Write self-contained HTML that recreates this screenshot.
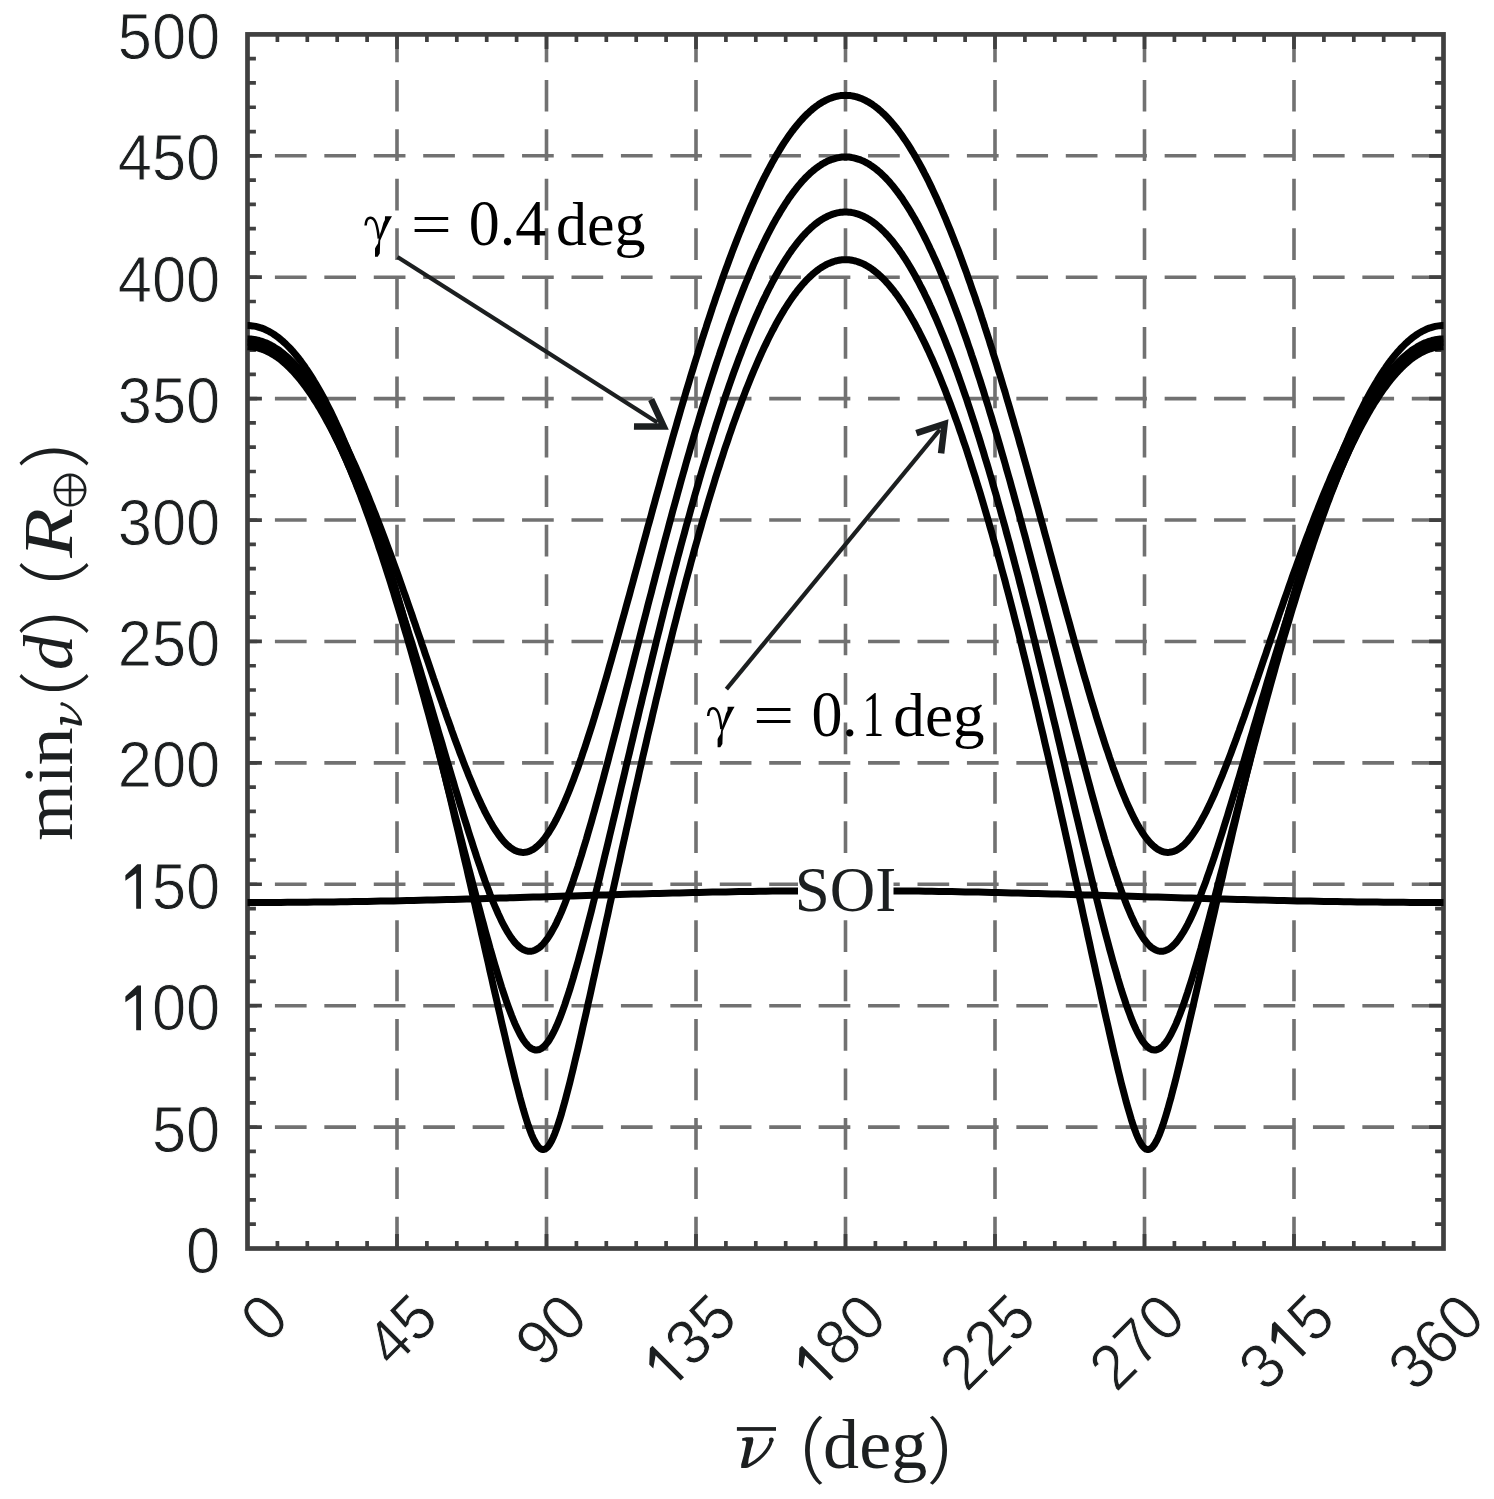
<!DOCTYPE html><html><head><meta charset="utf-8"><title>plot</title>
<style>html,body{margin:0;padding:0;background:#fff;overflow:hidden}svg{display:block}</style></head><body>
<svg width="1494" height="1499" viewBox="0 0 1494 1499">
<rect width="1494" height="1499" fill="#fff"/>
<g stroke="#717171" stroke-width="3.6" stroke-dasharray="31.7 17.73" fill="none">
<path d="M1443.5 1127.09H247.5"/>
<path d="M1443.5 1005.68H247.5"/>
<path d="M1443.5 884.27H247.5"/>
<path d="M1443.5 762.86H247.5"/>
<path d="M1443.5 641.45H247.5"/>
<path d="M1443.5 520.04H247.5"/>
<path d="M1443.5 398.63H247.5"/>
<path d="M1443.5 277.22H247.5"/>
<path d="M1443.5 155.81H247.5"/>
<path d="M397 1248.5V34.4"/>
<path d="M546.5 1248.5V34.4"/>
<path d="M696 1248.5V34.4"/>
<path d="M845.5 1248.5V34.4"/>
<path d="M995 1248.5V34.4"/>
<path d="M1144.5 1248.5V34.4"/>
<path d="M1294 1248.5V34.4"/>
</g>
<g stroke="#404040" fill="none">
<rect x="247.5" y="34.4" width="1196" height="1214.1" stroke-width="4.7"/>
<path stroke-width="3.7" d="M247.5 1224.22h8.4M1443.5 1224.22h-8.4M247.5 1199.94h8.4M1443.5 1199.94h-8.4M247.5 1175.65h8.4M1443.5 1175.65h-8.4M247.5 1151.37h8.4M1443.5 1151.37h-8.4M247.5 1127.09h14.4M1443.5 1127.09h-14.4M247.5 1102.81h8.4M1443.5 1102.81h-8.4M247.5 1078.53h8.4M1443.5 1078.53h-8.4M247.5 1054.24h8.4M1443.5 1054.24h-8.4M247.5 1029.96h8.4M1443.5 1029.96h-8.4M247.5 1005.68h14.4M1443.5 1005.68h-14.4M247.5 981.4h8.4M1443.5 981.4h-8.4M247.5 957.12h8.4M1443.5 957.12h-8.4M247.5 932.83h8.4M1443.5 932.83h-8.4M247.5 908.55h8.4M1443.5 908.55h-8.4M247.5 884.27h14.4M1443.5 884.27h-14.4M247.5 859.99h8.4M1443.5 859.99h-8.4M247.5 835.71h8.4M1443.5 835.71h-8.4M247.5 811.42h8.4M1443.5 811.42h-8.4M247.5 787.14h8.4M1443.5 787.14h-8.4M247.5 762.86h14.4M1443.5 762.86h-14.4M247.5 738.58h8.4M1443.5 738.58h-8.4M247.5 714.3h8.4M1443.5 714.3h-8.4M247.5 690.01h8.4M1443.5 690.01h-8.4M247.5 665.73h8.4M1443.5 665.73h-8.4M247.5 641.45h14.4M1443.5 641.45h-14.4M247.5 617.17h8.4M1443.5 617.17h-8.4M247.5 592.89h8.4M1443.5 592.89h-8.4M247.5 568.6h8.4M1443.5 568.6h-8.4M247.5 544.32h8.4M1443.5 544.32h-8.4M247.5 520.04h14.4M1443.5 520.04h-14.4M247.5 495.76h8.4M1443.5 495.76h-8.4M247.5 471.48h8.4M1443.5 471.48h-8.4M247.5 447.19h8.4M1443.5 447.19h-8.4M247.5 422.91h8.4M1443.5 422.91h-8.4M247.5 398.63h14.4M1443.5 398.63h-14.4M247.5 374.35h8.4M1443.5 374.35h-8.4M247.5 350.07h8.4M1443.5 350.07h-8.4M247.5 325.78h8.4M1443.5 325.78h-8.4M247.5 301.5h8.4M1443.5 301.5h-8.4M247.5 277.22h14.4M1443.5 277.22h-14.4M247.5 252.94h8.4M1443.5 252.94h-8.4M247.5 228.66h8.4M1443.5 228.66h-8.4M247.5 204.37h8.4M1443.5 204.37h-8.4M247.5 180.09h8.4M1443.5 180.09h-8.4M247.5 155.81h14.4M1443.5 155.81h-14.4M247.5 131.53h8.4M1443.5 131.53h-8.4M247.5 107.25h8.4M1443.5 107.25h-8.4M247.5 82.96h8.4M1443.5 82.96h-8.4M247.5 58.68h8.4M1443.5 58.68h-8.4M277.4 1248.5v-7.5M277.4 34.4v7.5M307.3 1248.5v-7.5M307.3 34.4v7.5M337.2 1248.5v-7.5M337.2 34.4v7.5M367.1 1248.5v-7.5M367.1 34.4v7.5M397 1248.5v-14.6M397 34.4v14.6M426.9 1248.5v-7.5M426.9 34.4v7.5M456.8 1248.5v-7.5M456.8 34.4v7.5M486.7 1248.5v-7.5M486.7 34.4v7.5M516.6 1248.5v-7.5M516.6 34.4v7.5M546.5 1248.5v-14.6M546.5 34.4v14.6M576.4 1248.5v-7.5M576.4 34.4v7.5M606.3 1248.5v-7.5M606.3 34.4v7.5M636.2 1248.5v-7.5M636.2 34.4v7.5M666.1 1248.5v-7.5M666.1 34.4v7.5M696 1248.5v-14.6M696 34.4v14.6M725.9 1248.5v-7.5M725.9 34.4v7.5M755.8 1248.5v-7.5M755.8 34.4v7.5M785.7 1248.5v-7.5M785.7 34.4v7.5M815.6 1248.5v-7.5M815.6 34.4v7.5M845.5 1248.5v-14.6M845.5 34.4v14.6M875.4 1248.5v-7.5M875.4 34.4v7.5M905.3 1248.5v-7.5M905.3 34.4v7.5M935.2 1248.5v-7.5M935.2 34.4v7.5M965.1 1248.5v-7.5M965.1 34.4v7.5M995 1248.5v-14.6M995 34.4v14.6M1024.9 1248.5v-7.5M1024.9 34.4v7.5M1054.8 1248.5v-7.5M1054.8 34.4v7.5M1084.7 1248.5v-7.5M1084.7 34.4v7.5M1114.6 1248.5v-7.5M1114.6 34.4v7.5M1144.5 1248.5v-14.6M1144.5 34.4v14.6M1174.4 1248.5v-7.5M1174.4 34.4v7.5M1204.3 1248.5v-7.5M1204.3 34.4v7.5M1234.2 1248.5v-7.5M1234.2 34.4v7.5M1264.1 1248.5v-7.5M1264.1 34.4v7.5M1294 1248.5v-14.6M1294 34.4v14.6M1323.9 1248.5v-7.5M1323.9 34.4v7.5M1353.8 1248.5v-7.5M1353.8 34.4v7.5M1383.7 1248.5v-7.5M1383.7 34.4v7.5M1413.6 1248.5v-7.5M1413.6 34.4v7.5"/>
</g>
<g stroke="#000" stroke-width="7.0" fill="none" stroke-linejoin="round">
<g transform="translate(0 0.5)">
<path d="M247.5 325.1 249.2 325.1 250.8 325.2 252.5 325.4 254.1 325.6 255.8 325.9 257.5 326.3 259.1 326.8 260.8 327.3 262.4 327.9 264.1 328.5 265.8 329.3 267.4 330.1 269.1 330.9 270.8 331.9 272.4 332.9 274.1 334.0 275.7 335.1 277.4 336.3 279.1 337.6 280.7 339.0 282.4 340.4 284.0 341.9 285.7 343.4 287.4 345.1 289.0 346.7 290.7 348.5 292.4 350.3 294.0 352.2 295.7 354.2 297.3 356.2 299.0 358.3 300.7 360.5 302.3 362.7 304.0 365.0 305.6 367.4 307.3 369.8 309.0 372.4 310.6 374.9 312.3 377.6 313.9 380.3 315.6 383.0 317.3 385.9 318.9 388.7 320.6 391.7 322.2 394.7 323.9 397.8 325.6 401.0 327.2 404.2 328.9 407.5 330.6 410.8 332.2 414.2 333.9 417.7 335.5 421.3 337.2 424.9 338.9 428.5 340.5 432.2 342.2 436.0 343.8 439.9 345.5 443.8 347.2 447.8 348.8 451.8 350.5 455.9 352.1 460.0 353.8 464.2 355.5 468.5 357.1 472.8 358.8 477.2 360.5 481.7 362.1 486.2 363.8 490.7 365.4 495.4 367.1 500.0 368.8 504.8 370.4 509.6 372.1 514.4 373.7 519.3 375.4 524.3 377.1 529.3 378.7 534.4 380.4 539.5 382.1 544.7 383.7 549.9 385.4 555.2 387.0 560.5 388.7 565.9 390.4 571.3 392.0 576.8 393.7 582.4 395.3 587.9 397.0 593.6 398.7 599.3 400.3 605.0 402.0 610.8 403.6 616.6 405.3 622.5 407.0 628.5 408.6 634.4 410.3 640.5 412.0 646.5 413.6 652.6 415.3 658.8 416.9 665.0 418.6 671.2 420.3 677.5 421.9 683.9 423.6 690.2 425.2 696.6 426.9 703.1 428.6 709.6 430.2 716.1 431.9 722.7 433.5 729.3 435.2 735.9 436.9 742.6 438.5 749.4 440.2 756.1 441.9 762.9 443.5 769.7 445.2 776.6 446.8 783.5 448.5 790.4 450.2 797.3 451.8 804.3 453.5 811.3 455.1 818.4 456.8 825.4 458.5 832.5 460.1 839.6 461.8 846.8 463.4 854.0 465.1 861.1 466.8 868.3 468.4 875.6 470.1 882.8 471.8 890.1 473.4 897.4 475.1 904.7 476.7 912.0 478.4 919.3 480.1 926.6 481.7 934.0 483.4 941.3 485.0 948.6 486.7 956.0 488.4 963.3 490.0 970.7 491.7 978.0 493.3 985.3 495.0 992.6 496.7 999.9 498.3 1007.2 500.0 1014.5 501.6 1021.7 503.3 1028.9 505.0 1036.0 506.6 1043.1 508.3 1050.1 510.0 1057.1 511.6 1063.9 513.3 1070.7 514.9 1077.4 516.6 1084.0 518.3 1090.4 519.9 1096.7 521.6 1102.7 523.2 1108.6 524.9 1114.3 526.6 1119.7 528.2 1124.7 529.9 1129.5 531.5 1133.8 533.2 1137.7 534.9 1141.1 536.5 1143.9 538.2 1146.2 539.9 1147.9 541.5 1148.8 543.2 1149.1 544.8 1148.7 546.5 1147.6 548.2 1145.9 549.8 1143.5 551.5 1140.6 553.1 1137.1 554.8 1133.1 556.5 1128.6 558.1 1123.8 559.8 1118.6 561.5 1113.1 563.1 1107.3 564.8 1101.3 566.4 1095.1 568.1 1088.7 569.8 1082.2 571.4 1075.5 573.1 1068.7 574.7 1061.7 576.4 1054.7 578.1 1047.6 579.7 1040.4 581.4 1033.1 583.0 1025.8 584.7 1018.5 586.4 1011.1 588.0 1003.6 589.7 996.2 591.4 988.6 593.0 981.1 594.7 973.6 596.3 966.0 598.0 958.4 599.7 950.9 601.3 943.3 603.0 935.7 604.6 928.1 606.3 920.5 608.0 912.9 609.6 905.3 611.3 897.7 612.9 890.1 614.6 882.5 616.3 875.0 617.9 867.4 619.6 859.9 621.2 852.3 622.9 844.8 624.6 837.3 626.2 829.9 627.9 822.4 629.6 815.0 631.2 807.6 632.9 800.2 634.5 792.8 636.2 785.5 637.9 778.1 639.5 770.8 641.2 763.6 642.8 756.3 644.5 749.1 646.2 741.9 647.8 734.8 649.5 727.7 651.2 720.6 652.8 713.5 654.5 706.5 656.1 699.5 657.8 692.6 659.5 685.7 661.1 678.8 662.8 671.9 664.4 665.1 666.1 658.4 667.8 651.6 669.4 644.9 671.1 638.3 672.7 631.7 674.4 625.1 676.1 618.6 677.7 612.1 679.4 605.7 681.0 599.3 682.7 592.9 684.4 586.6 686.0 580.3 687.7 574.1 689.4 568.0 691.0 561.8 692.7 555.8 694.3 549.7 696.0 543.8 697.7 537.9 699.3 532.0 701.0 526.2 702.6 520.4 704.3 514.7 706.0 509.0 707.6 503.4 709.3 497.8 711.0 492.3 712.6 486.9 714.3 481.5 715.9 476.1 717.6 470.8 719.3 465.6 720.9 460.4 722.6 455.3 724.2 450.2 725.9 445.2 727.6 440.3 729.2 435.4 730.9 430.6 732.5 425.8 734.2 421.1 735.9 416.5 737.5 411.9 739.2 407.4 740.9 402.9 742.5 398.5 744.2 394.2 745.8 389.9 747.5 385.7 749.2 381.5 750.8 377.4 752.5 373.4 754.1 369.5 755.8 365.6 757.5 361.7 759.1 358.0 760.8 354.3 762.4 350.7 764.1 347.1 765.8 343.6 767.4 340.2 769.1 336.8 770.8 333.5 772.4 330.3 774.1 327.2 775.7 324.1 777.4 321.1 779.1 318.1 780.7 315.2 782.4 312.4 784.0 309.7 785.7 307.0 787.4 304.4 789.0 301.9 790.7 299.4 792.3 297.1 794.0 294.7 795.7 292.5 797.3 290.3 799.0 288.2 800.6 286.2 802.3 284.2 804.0 282.4 805.6 280.5 807.3 278.8 809.0 277.1 810.6 275.6 812.3 274.0 813.9 272.6 815.6 271.2 817.3 269.9 818.9 268.7 820.6 267.5 822.2 266.5 823.9 265.5 825.6 264.5 827.2 263.7 828.9 262.9 830.6 262.2 832.2 261.6 833.9 261.0 835.5 260.5 837.2 260.1 838.9 259.8 840.5 259.5 842.2 259.3 843.8 259.2 845.5 259.2 847.2 259.2 848.8 259.3 850.5 259.5 852.1 259.8 853.8 260.1 855.5 260.5 857.1 261.0 858.8 261.6 860.5 262.2 862.1 262.9 863.8 263.7 865.4 264.5 867.1 265.5 868.8 266.5 870.4 267.5 872.1 268.7 873.7 269.9 875.4 271.2 877.1 272.6 878.7 274.0 880.4 275.6 882.0 277.1 883.7 278.8 885.4 280.5 887.0 282.4 888.7 284.2 890.4 286.2 892.0 288.2 893.7 290.3 895.3 292.5 897.0 294.7 898.7 297.1 900.3 299.4 902.0 301.9 903.6 304.4 905.3 307.0 907.0 309.7 908.6 312.4 910.3 315.2 911.9 318.1 913.6 321.1 915.3 324.1 916.9 327.2 918.6 330.3 920.2 333.5 921.9 336.8 923.6 340.2 925.2 343.6 926.9 347.1 928.6 350.7 930.2 354.3 931.9 358.0 933.5 361.7 935.2 365.6 936.9 369.5 938.5 373.4 940.2 377.4 941.8 381.5 943.5 385.7 945.2 389.9 946.8 394.2 948.5 398.5 950.2 402.9 951.8 407.4 953.5 411.9 955.1 416.5 956.8 421.1 958.5 425.8 960.1 430.6 961.8 435.4 963.4 440.3 965.1 445.2 966.8 450.2 968.4 455.3 970.1 460.4 971.7 465.6 973.4 470.8 975.1 476.1 976.7 481.5 978.4 486.9 980.1 492.3 981.7 497.8 983.4 503.4 985.0 509.0 986.7 514.7 988.4 520.4 990.0 526.2 991.7 532.0 993.3 537.9 995.0 543.8 996.7 549.7 998.3 555.8 1000.0 561.8 1001.6 568.0 1003.3 574.1 1005.0 580.3 1006.6 586.6 1008.3 592.9 1010.0 599.3 1011.6 605.7 1013.3 612.1 1014.9 618.6 1016.6 625.1 1018.3 631.7 1019.9 638.3 1021.6 644.9 1023.2 651.6 1024.9 658.4 1026.6 665.1 1028.2 671.9 1029.9 678.8 1031.5 685.7 1033.2 692.6 1034.9 699.5 1036.5 706.5 1038.2 713.5 1039.8 720.6 1041.5 727.7 1043.2 734.8 1044.8 741.9 1046.5 749.1 1048.2 756.3 1049.8 763.6 1051.5 770.8 1053.1 778.1 1054.8 785.5 1056.5 792.8 1058.1 800.2 1059.8 807.6 1061.4 815.0 1063.1 822.4 1064.8 829.9 1066.4 837.3 1068.1 844.8 1069.8 852.3 1071.4 859.9 1073.1 867.4 1074.7 875.0 1076.4 882.5 1078.1 890.1 1079.7 897.7 1081.4 905.3 1083.0 912.9 1084.7 920.5 1086.4 928.1 1088.0 935.7 1089.7 943.3 1091.3 950.9 1093.0 958.4 1094.7 966.0 1096.3 973.6 1098.0 981.1 1099.7 988.6 1101.3 996.2 1103.0 1003.6 1104.6 1011.1 1106.3 1018.5 1108.0 1025.8 1109.6 1033.1 1111.3 1040.4 1112.9 1047.6 1114.6 1054.7 1116.3 1061.7 1117.9 1068.7 1119.6 1075.5 1121.2 1082.2 1122.9 1088.7 1124.6 1095.1 1126.2 1101.3 1127.9 1107.3 1129.6 1113.1 1131.2 1118.6 1132.9 1123.8 1134.5 1128.6 1136.2 1133.1 1137.9 1137.1 1139.5 1140.6 1141.2 1143.5 1142.8 1145.9 1144.5 1147.6 1146.2 1148.7 1147.8 1149.1 1149.5 1148.8 1151.1 1147.9 1152.8 1146.2 1154.5 1143.9 1156.1 1141.1 1157.8 1137.7 1159.5 1133.8 1161.1 1129.5 1162.8 1124.7 1164.4 1119.7 1166.1 1114.3 1167.8 1108.6 1169.4 1102.7 1171.1 1096.7 1172.7 1090.4 1174.4 1084.0 1176.1 1077.4 1177.7 1070.7 1179.4 1063.9 1181.0 1057.1 1182.7 1050.1 1184.4 1043.1 1186.0 1036.0 1187.7 1028.9 1189.3 1021.7 1191.0 1014.5 1192.7 1007.2 1194.3 999.9 1196.0 992.6 1197.7 985.3 1199.3 978.0 1201.0 970.7 1202.6 963.3 1204.3 956.0 1206.0 948.6 1207.6 941.3 1209.3 934.0 1210.9 926.6 1212.6 919.3 1214.3 912.0 1215.9 904.7 1217.6 897.4 1219.2 890.1 1220.9 882.8 1222.6 875.6 1224.2 868.3 1225.9 861.1 1227.6 854.0 1229.2 846.8 1230.9 839.6 1232.5 832.5 1234.2 825.4 1235.9 818.4 1237.5 811.3 1239.2 804.3 1240.8 797.3 1242.5 790.4 1244.2 783.5 1245.8 776.6 1247.5 769.7 1249.2 762.9 1250.8 756.1 1252.5 749.4 1254.1 742.6 1255.8 735.9 1257.5 729.3 1259.1 722.7 1260.8 716.1 1262.4 709.6 1264.1 703.1 1265.8 696.6 1267.4 690.2 1269.1 683.9 1270.7 677.5 1272.4 671.2 1274.1 665.0 1275.7 658.8 1277.4 652.6 1279.0 646.5 1280.7 640.5 1282.4 634.4 1284.0 628.5 1285.7 622.5 1287.4 616.6 1289.0 610.8 1290.7 605.0 1292.3 599.3 1294.0 593.6 1295.7 587.9 1297.3 582.4 1299.0 576.8 1300.6 571.3 1302.3 565.9 1304.0 560.5 1305.6 555.2 1307.3 549.9 1309.0 544.7 1310.6 539.5 1312.3 534.4 1313.9 529.3 1315.6 524.3 1317.3 519.3 1318.9 514.4 1320.6 509.6 1322.2 504.8 1323.9 500.0 1325.6 495.4 1327.2 490.7 1328.9 486.2 1330.5 481.7 1332.2 477.2 1333.9 472.8 1335.5 468.5 1337.2 464.2 1338.9 460.0 1340.5 455.9 1342.2 451.8 1343.8 447.8 1345.5 443.8 1347.2 439.9 1348.8 436.0 1350.5 432.2 1352.1 428.5 1353.8 424.9 1355.5 421.3 1357.1 417.7 1358.8 414.2 1360.4 410.8 1362.1 407.5 1363.8 404.2 1365.4 401.0 1367.1 397.8 1368.8 394.7 1370.4 391.7 1372.1 388.7 1373.7 385.9 1375.4 383.0 1377.1 380.3 1378.7 377.6 1380.4 374.9 1382.0 372.4 1383.7 369.8 1385.4 367.4 1387.0 365.0 1388.7 362.7 1390.3 360.5 1392.0 358.3 1393.7 356.2 1395.3 354.2 1397.0 352.2 1398.7 350.3 1400.3 348.5 1402.0 346.7 1403.6 345.1 1405.3 343.4 1407.0 341.9 1408.6 340.4 1410.3 339.0 1411.9 337.6 1413.6 336.3 1415.3 335.1 1416.9 334.0 1418.6 332.9 1420.2 331.9 1421.9 330.9 1423.6 330.1 1425.2 329.3 1426.9 328.5 1428.5 327.9 1430.2 327.3 1431.9 326.8 1433.5 326.3 1435.2 325.9 1436.9 325.6 1438.5 325.4 1440.2 325.2 1441.8 325.1 1443.5 325.1"/>
<path d="M247.5 341.7 249.2 341.8 250.8 341.9 252.5 342.0 254.1 342.3 255.8 342.6 257.5 343.0 259.1 343.4 260.8 343.9 262.4 344.5 264.1 345.1 265.8 345.9 267.4 346.6 269.1 347.5 270.8 348.4 272.4 349.4 274.1 350.5 275.7 351.6 277.4 352.8 279.1 354.0 280.7 355.4 282.4 356.8 284.0 358.2 285.7 359.7 287.4 361.3 289.0 363.0 290.7 364.7 292.4 366.5 294.0 368.4 295.7 370.3 297.3 372.3 299.0 374.4 300.7 376.5 302.3 378.7 304.0 380.9 305.6 383.3 307.3 385.6 309.0 388.1 310.6 390.6 312.3 393.2 313.9 395.8 315.6 398.5 317.3 401.3 318.9 404.1 320.6 407.0 322.2 410.0 323.9 413.0 325.6 416.1 327.2 419.3 328.9 422.5 330.6 425.7 332.2 429.1 333.9 432.5 335.5 435.9 337.2 439.4 338.9 443.0 340.5 446.6 342.2 450.3 343.8 454.1 345.5 457.9 347.2 461.8 348.8 465.7 350.5 469.7 352.1 473.7 353.8 477.8 355.5 482.0 357.1 486.2 358.8 490.5 360.5 494.8 362.1 499.2 363.8 503.6 365.4 508.1 367.1 512.7 368.8 517.3 370.4 521.9 372.1 526.6 373.7 531.4 375.4 536.2 377.1 541.0 378.7 546.0 380.4 550.9 382.1 555.9 383.7 561.0 385.4 566.1 387.0 571.2 388.7 576.4 390.4 581.7 392.0 587.0 393.7 592.3 395.3 597.7 397.0 603.1 398.7 608.6 400.3 614.1 402.0 619.7 403.6 625.3 405.3 630.9 407.0 636.6 408.6 642.3 410.3 648.1 412.0 653.9 413.6 659.7 415.3 665.6 416.9 671.5 418.6 677.5 420.3 683.5 421.9 689.5 423.6 695.5 425.2 701.6 426.9 707.7 428.6 713.8 430.2 720.0 431.9 726.2 433.5 732.4 435.2 738.7 436.9 744.9 438.5 751.2 440.2 757.5 441.9 763.9 443.5 770.2 445.2 776.6 446.8 783.0 448.5 789.4 450.2 795.8 451.8 802.2 453.5 808.6 455.1 815.0 456.8 821.5 458.5 827.9 460.1 834.4 461.8 840.8 463.4 847.3 465.1 853.7 466.8 860.1 468.4 866.6 470.1 873.0 471.8 879.3 473.4 885.7 475.1 892.0 476.7 898.4 478.4 904.6 480.1 910.9 481.7 917.1 483.4 923.3 485.0 929.4 486.7 935.4 488.4 941.4 490.0 947.4 491.7 953.2 493.3 959.0 495.0 964.7 496.7 970.3 498.3 975.8 500.0 981.2 501.6 986.5 503.3 991.6 505.0 996.6 506.6 1001.5 508.3 1006.2 510.0 1010.7 511.6 1015.0 513.3 1019.2 514.9 1023.1 516.6 1026.8 518.3 1030.3 519.9 1033.5 521.6 1036.5 523.2 1039.2 524.9 1041.6 526.6 1043.7 528.2 1045.5 529.9 1047.0 531.5 1048.1 533.2 1048.9 534.9 1049.4 536.5 1049.5 538.2 1049.3 539.9 1048.8 541.5 1047.9 543.2 1046.6 544.8 1045.1 546.5 1043.2 548.2 1041.0 549.8 1038.5 551.5 1035.7 553.1 1032.6 554.8 1029.2 556.5 1025.6 558.1 1021.8 559.8 1017.7 561.5 1013.3 563.1 1008.8 564.8 1004.1 566.4 999.2 568.1 994.1 569.8 988.9 571.4 983.5 573.1 978.0 574.7 972.3 576.4 966.5 578.1 960.6 579.7 954.6 581.4 948.5 583.0 942.4 584.7 936.1 586.4 929.7 588.0 923.3 589.7 916.8 591.4 910.3 593.0 903.7 594.7 897.0 596.3 890.3 598.0 883.6 599.7 876.8 601.3 870.0 603.0 863.1 604.6 856.3 606.3 849.4 608.0 842.4 609.6 835.5 611.3 828.5 612.9 821.6 614.6 814.6 616.3 807.6 617.9 800.6 619.6 793.6 621.2 786.6 622.9 779.6 624.6 772.5 626.2 765.5 627.9 758.5 629.6 751.6 631.2 744.6 632.9 737.6 634.5 730.6 636.2 723.7 637.9 716.7 639.5 709.8 641.2 702.9 642.8 696.0 644.5 689.1 646.2 682.3 647.8 675.4 649.5 668.6 651.2 661.9 652.8 655.1 654.5 648.4 656.1 641.6 657.8 635.0 659.5 628.3 661.1 621.7 662.8 615.1 664.4 608.5 666.1 602.0 667.8 595.5 669.4 589.0 671.1 582.6 672.7 576.2 674.4 569.8 676.1 563.5 677.7 557.2 679.4 551.0 681.0 544.8 682.7 538.6 684.4 532.5 686.0 526.4 687.7 520.4 689.4 514.4 691.0 508.4 692.7 502.5 694.3 496.6 696.0 490.8 697.7 485.0 699.3 479.3 701.0 473.6 702.6 468.0 704.3 462.4 706.0 456.9 707.6 451.4 709.3 446.0 711.0 440.6 712.6 435.2 714.3 430.0 715.9 424.7 717.6 419.6 719.3 414.4 720.9 409.4 722.6 404.4 724.2 399.4 725.9 394.5 727.6 389.7 729.2 384.9 730.9 380.1 732.5 375.5 734.2 370.8 735.9 366.3 737.5 361.8 739.2 357.3 740.9 353.0 742.5 348.6 744.2 344.4 745.8 340.2 747.5 336.0 749.2 332.0 750.8 328.0 752.5 324.0 754.1 320.1 755.8 316.3 757.5 312.5 759.1 308.8 760.8 305.2 762.4 301.6 764.1 298.1 765.8 294.7 767.4 291.3 769.1 288.0 770.8 284.8 772.4 281.6 774.1 278.5 775.7 275.5 777.4 272.5 779.1 269.6 780.7 266.8 782.4 264.0 784.0 261.3 785.7 258.7 787.4 256.1 789.0 253.6 790.7 251.2 792.3 248.8 794.0 246.6 795.7 244.4 797.3 242.2 799.0 240.1 800.6 238.2 802.3 236.2 804.0 234.4 805.6 232.6 807.3 230.9 809.0 229.2 810.6 227.7 812.3 226.2 813.9 224.7 815.6 223.4 817.3 222.1 818.9 220.9 820.6 219.8 822.2 218.7 823.9 217.7 825.6 216.8 827.2 216.0 828.9 215.2 830.6 214.5 832.2 213.9 833.9 213.3 835.5 212.8 837.2 212.4 838.9 212.1 840.5 211.8 842.2 211.7 843.8 211.5 845.5 211.5 847.2 211.5 848.8 211.7 850.5 211.8 852.1 212.1 853.8 212.4 855.5 212.8 857.1 213.3 858.8 213.9 860.5 214.5 862.1 215.2 863.8 216.0 865.4 216.8 867.1 217.7 868.8 218.7 870.4 219.8 872.1 220.9 873.7 222.1 875.4 223.4 877.1 224.7 878.7 226.2 880.4 227.7 882.0 229.2 883.7 230.9 885.4 232.6 887.0 234.4 888.7 236.2 890.4 238.2 892.0 240.1 893.7 242.2 895.3 244.4 897.0 246.6 898.7 248.8 900.3 251.2 902.0 253.6 903.6 256.1 905.3 258.7 907.0 261.3 908.6 264.0 910.3 266.8 911.9 269.6 913.6 272.5 915.3 275.5 916.9 278.5 918.6 281.6 920.2 284.8 921.9 288.0 923.6 291.3 925.2 294.7 926.9 298.1 928.6 301.6 930.2 305.2 931.9 308.8 933.5 312.5 935.2 316.3 936.9 320.1 938.5 324.0 940.2 328.0 941.8 332.0 943.5 336.0 945.2 340.2 946.8 344.4 948.5 348.6 950.2 353.0 951.8 357.3 953.5 361.8 955.1 366.3 956.8 370.8 958.5 375.5 960.1 380.1 961.8 384.9 963.4 389.7 965.1 394.5 966.8 399.4 968.4 404.4 970.1 409.4 971.7 414.4 973.4 419.6 975.1 424.7 976.7 430.0 978.4 435.2 980.1 440.6 981.7 446.0 983.4 451.4 985.0 456.9 986.7 462.4 988.4 468.0 990.0 473.6 991.7 479.3 993.3 485.0 995.0 490.8 996.7 496.6 998.3 502.5 1000.0 508.4 1001.6 514.4 1003.3 520.4 1005.0 526.4 1006.6 532.5 1008.3 538.6 1010.0 544.8 1011.6 551.0 1013.3 557.2 1014.9 563.5 1016.6 569.8 1018.3 576.2 1019.9 582.6 1021.6 589.0 1023.2 595.5 1024.9 602.0 1026.6 608.5 1028.2 615.1 1029.9 621.7 1031.5 628.3 1033.2 635.0 1034.9 641.6 1036.5 648.4 1038.2 655.1 1039.8 661.9 1041.5 668.6 1043.2 675.4 1044.8 682.3 1046.5 689.1 1048.2 696.0 1049.8 702.9 1051.5 709.8 1053.1 716.7 1054.8 723.7 1056.5 730.6 1058.1 737.6 1059.8 744.6 1061.4 751.6 1063.1 758.5 1064.8 765.5 1066.4 772.5 1068.1 779.6 1069.8 786.6 1071.4 793.6 1073.1 800.6 1074.7 807.6 1076.4 814.6 1078.1 821.6 1079.7 828.5 1081.4 835.5 1083.0 842.4 1084.7 849.4 1086.4 856.3 1088.0 863.1 1089.7 870.0 1091.3 876.8 1093.0 883.6 1094.7 890.3 1096.3 897.0 1098.0 903.7 1099.7 910.3 1101.3 916.8 1103.0 923.3 1104.6 929.7 1106.3 936.1 1108.0 942.4 1109.6 948.5 1111.3 954.6 1112.9 960.6 1114.6 966.5 1116.3 972.3 1117.9 978.0 1119.6 983.5 1121.2 988.9 1122.9 994.1 1124.6 999.2 1126.2 1004.1 1127.9 1008.8 1129.6 1013.3 1131.2 1017.7 1132.9 1021.8 1134.5 1025.6 1136.2 1029.2 1137.9 1032.6 1139.5 1035.7 1141.2 1038.5 1142.8 1041.0 1144.5 1043.2 1146.2 1045.1 1147.8 1046.6 1149.5 1047.9 1151.1 1048.8 1152.8 1049.3 1154.5 1049.5 1156.1 1049.4 1157.8 1048.9 1159.5 1048.1 1161.1 1047.0 1162.8 1045.5 1164.4 1043.7 1166.1 1041.6 1167.8 1039.2 1169.4 1036.5 1171.1 1033.5 1172.7 1030.3 1174.4 1026.8 1176.1 1023.1 1177.7 1019.2 1179.4 1015.0 1181.0 1010.7 1182.7 1006.2 1184.4 1001.5 1186.0 996.6 1187.7 991.6 1189.3 986.5 1191.0 981.2 1192.7 975.8 1194.3 970.3 1196.0 964.7 1197.7 959.0 1199.3 953.2 1201.0 947.4 1202.6 941.4 1204.3 935.4 1206.0 929.4 1207.6 923.3 1209.3 917.1 1210.9 910.9 1212.6 904.6 1214.3 898.4 1215.9 892.0 1217.6 885.7 1219.2 879.3 1220.9 873.0 1222.6 866.6 1224.2 860.1 1225.9 853.7 1227.6 847.3 1229.2 840.8 1230.9 834.4 1232.5 827.9 1234.2 821.5 1235.9 815.0 1237.5 808.6 1239.2 802.2 1240.8 795.8 1242.5 789.4 1244.2 783.0 1245.8 776.6 1247.5 770.2 1249.2 763.9 1250.8 757.5 1252.5 751.2 1254.1 744.9 1255.8 738.7 1257.5 732.4 1259.1 726.2 1260.8 720.0 1262.4 713.8 1264.1 707.7 1265.8 701.6 1267.4 695.5 1269.1 689.5 1270.7 683.5 1272.4 677.5 1274.1 671.5 1275.7 665.6 1277.4 659.7 1279.0 653.9 1280.7 648.1 1282.4 642.3 1284.0 636.6 1285.7 630.9 1287.4 625.3 1289.0 619.7 1290.7 614.1 1292.3 608.6 1294.0 603.1 1295.7 597.7 1297.3 592.3 1299.0 587.0 1300.6 581.7 1302.3 576.4 1304.0 571.2 1305.6 566.1 1307.3 561.0 1309.0 555.9 1310.6 550.9 1312.3 546.0 1313.9 541.0 1315.6 536.2 1317.3 531.4 1318.9 526.6 1320.6 521.9 1322.2 517.3 1323.9 512.7 1325.6 508.1 1327.2 503.6 1328.9 499.2 1330.5 494.8 1332.2 490.5 1333.9 486.2 1335.5 482.0 1337.2 477.8 1338.9 473.7 1340.5 469.7 1342.2 465.7 1343.8 461.8 1345.5 457.9 1347.2 454.1 1348.8 450.3 1350.5 446.6 1352.1 443.0 1353.8 439.4 1355.5 435.9 1357.1 432.5 1358.8 429.1 1360.4 425.7 1362.1 422.5 1363.8 419.3 1365.4 416.1 1367.1 413.0 1368.8 410.0 1370.4 407.0 1372.1 404.1 1373.7 401.3 1375.4 398.5 1377.1 395.8 1378.7 393.2 1380.4 390.6 1382.0 388.1 1383.7 385.6 1385.4 383.3 1387.0 380.9 1388.7 378.7 1390.3 376.5 1392.0 374.4 1393.7 372.3 1395.3 370.3 1397.0 368.4 1398.7 366.5 1400.3 364.7 1402.0 363.0 1403.6 361.3 1405.3 359.7 1407.0 358.2 1408.6 356.8 1410.3 355.4 1411.9 354.0 1413.6 352.8 1415.3 351.6 1416.9 350.5 1418.6 349.4 1420.2 348.4 1421.9 347.5 1423.6 346.6 1425.2 345.9 1426.9 345.1 1428.5 344.5 1430.2 343.9 1431.9 343.4 1433.5 343.0 1435.2 342.6 1436.9 342.3 1438.5 342.0 1440.2 341.9 1441.8 341.8 1443.5 341.7"/>
<path d="M247.5 346.2 249.2 346.3 250.8 346.4 252.5 346.5 254.1 346.8 255.8 347.1 257.5 347.4 259.1 347.8 260.8 348.3 262.4 348.9 264.1 349.5 265.8 350.2 267.4 351.0 269.1 351.8 270.8 352.7 272.4 353.7 274.1 354.7 275.7 355.8 277.4 356.9 279.1 358.1 280.7 359.4 282.4 360.8 284.0 362.2 285.7 363.6 287.4 365.2 289.0 366.8 290.7 368.5 292.4 370.2 294.0 372.0 295.7 373.9 297.3 375.8 299.0 377.8 300.7 379.8 302.3 381.9 304.0 384.1 305.6 386.3 307.3 388.6 309.0 391.0 310.6 393.4 312.3 395.9 313.9 398.5 315.6 401.1 317.3 403.7 318.9 406.5 320.6 409.2 322.2 412.1 323.9 415.0 325.6 418.0 327.2 421.0 328.9 424.1 330.6 427.2 332.2 430.4 333.9 433.7 335.5 437.0 337.2 440.4 338.9 443.8 340.5 447.3 342.2 450.8 343.8 454.4 345.5 458.1 347.2 461.8 348.8 465.5 350.5 469.3 352.1 473.2 353.8 477.1 355.5 481.1 357.1 485.1 358.8 489.2 360.5 493.3 362.1 497.5 363.8 501.7 365.4 506.0 367.1 510.3 368.8 514.7 370.4 519.1 372.1 523.6 373.7 528.1 375.4 532.6 377.1 537.2 378.7 541.9 380.4 546.6 382.1 551.3 383.7 556.1 385.4 560.9 387.0 565.7 388.7 570.6 390.4 575.6 392.0 580.5 393.7 585.5 395.3 590.6 397.0 595.7 398.7 600.8 400.3 605.9 402.0 611.1 403.6 616.4 405.3 621.6 407.0 626.9 408.6 632.2 410.3 637.5 412.0 642.9 413.6 648.3 415.3 653.7 416.9 659.1 418.6 664.6 420.3 670.1 421.9 675.6 423.6 681.1 425.2 686.6 426.9 692.2 428.6 697.8 430.2 703.3 431.9 708.9 433.5 714.5 435.2 720.2 436.9 725.8 438.5 731.4 440.2 737.0 441.9 742.6 443.5 748.3 445.2 753.9 446.8 759.5 448.5 765.1 450.2 770.7 451.8 776.3 453.5 781.8 455.1 787.4 456.8 792.9 458.5 798.4 460.1 803.9 461.8 809.3 463.4 814.7 465.1 820.1 466.8 825.4 468.4 830.7 470.1 836.0 471.8 841.2 473.4 846.3 475.1 851.4 476.7 856.4 478.4 861.3 480.1 866.2 481.7 871.0 483.4 875.7 485.0 880.4 486.7 884.9 488.4 889.3 490.0 893.7 491.7 897.9 493.3 902.0 495.0 906.0 496.7 909.8 498.3 913.5 500.0 917.1 501.6 920.6 503.3 923.8 505.0 927.0 506.6 929.9 508.3 932.7 510.0 935.3 511.6 937.7 513.3 940.0 514.9 942.0 516.6 943.8 518.3 945.5 519.9 946.9 521.6 948.1 523.2 949.1 524.9 949.8 526.6 950.4 528.2 950.7 529.9 950.8 531.5 950.7 533.2 950.3 534.9 949.7 536.5 948.9 538.2 947.8 539.9 946.6 541.5 945.1 543.2 943.4 544.8 941.4 546.5 939.3 548.2 937.0 549.8 934.4 551.5 931.7 553.1 928.7 554.8 925.6 556.5 922.3 558.1 918.8 559.8 915.2 561.5 911.3 563.1 907.4 564.8 903.2 566.4 899.0 568.1 894.6 569.8 890.0 571.4 885.4 573.1 880.6 574.7 875.7 576.4 870.6 578.1 865.5 579.7 860.3 581.4 855.0 583.0 849.5 584.7 844.0 586.4 838.5 588.0 832.8 589.7 827.1 591.4 821.3 593.0 815.4 594.7 809.5 596.3 803.5 598.0 797.5 599.7 791.4 601.3 785.2 603.0 779.1 604.6 772.9 606.3 766.6 608.0 760.3 609.6 754.0 611.3 747.7 612.9 741.3 614.6 734.9 616.3 728.5 617.9 722.0 619.6 715.6 621.2 709.1 622.9 702.6 624.6 696.1 626.2 689.6 627.9 683.1 629.6 676.6 631.2 670.1 632.9 663.6 634.5 657.1 636.2 650.5 637.9 644.0 639.5 637.5 641.2 631.0 642.8 624.6 644.5 618.1 646.2 611.6 647.8 605.2 649.5 598.7 651.2 592.3 652.8 585.9 654.5 579.5 656.1 573.1 657.8 566.8 659.5 560.4 661.1 554.1 662.8 547.8 664.4 541.6 666.1 535.3 667.8 529.1 669.4 523.0 671.1 516.8 672.7 510.7 674.4 504.6 676.1 498.5 677.7 492.5 679.4 486.5 681.0 480.5 682.7 474.6 684.4 468.7 686.0 462.9 687.7 457.0 689.4 451.3 691.0 445.5 692.7 439.8 694.3 434.2 696.0 428.5 697.7 423.0 699.3 417.4 701.0 411.9 702.6 406.5 704.3 401.1 706.0 395.7 707.6 390.4 709.3 385.1 711.0 379.9 712.6 374.8 714.3 369.6 715.9 364.6 717.6 359.5 719.3 354.6 720.9 349.6 722.6 344.8 724.2 340.0 725.9 335.2 727.6 330.5 729.2 325.8 730.9 321.2 732.5 316.7 734.2 312.2 735.9 307.7 737.5 303.4 739.2 299.0 740.9 294.8 742.5 290.6 744.2 286.4 745.8 282.3 747.5 278.3 749.2 274.3 750.8 270.4 752.5 266.5 754.1 262.7 755.8 259.0 757.5 255.3 759.1 251.7 760.8 248.2 762.4 244.7 764.1 241.3 765.8 237.9 767.4 234.6 769.1 231.4 770.8 228.2 772.4 225.1 774.1 222.1 775.7 219.1 777.4 216.2 779.1 213.4 780.7 210.6 782.4 207.9 784.0 205.3 785.7 202.7 787.4 200.2 789.0 197.7 790.7 195.4 792.3 193.1 794.0 190.8 795.7 188.7 797.3 186.6 799.0 184.6 800.6 182.6 802.3 180.7 804.0 178.9 805.6 177.1 807.3 175.5 809.0 173.9 810.6 172.3 812.3 170.9 813.9 169.5 815.6 168.1 817.3 166.9 818.9 165.7 820.6 164.6 822.2 163.5 823.9 162.6 825.6 161.7 827.2 160.8 828.9 160.1 830.6 159.4 832.2 158.8 833.9 158.3 835.5 157.8 837.2 157.4 838.9 157.1 840.5 156.8 842.2 156.6 843.8 156.5 845.5 156.5 847.2 156.5 848.8 156.6 850.5 156.8 852.1 157.1 853.8 157.4 855.5 157.8 857.1 158.3 858.8 158.8 860.5 159.4 862.1 160.1 863.8 160.8 865.4 161.7 867.1 162.6 868.8 163.5 870.4 164.6 872.1 165.7 873.7 166.9 875.4 168.1 877.1 169.5 878.7 170.9 880.4 172.3 882.0 173.9 883.7 175.5 885.4 177.1 887.0 178.9 888.7 180.7 890.4 182.6 892.0 184.6 893.7 186.6 895.3 188.7 897.0 190.8 898.7 193.1 900.3 195.4 902.0 197.7 903.6 200.2 905.3 202.7 907.0 205.3 908.6 207.9 910.3 210.6 911.9 213.4 913.6 216.2 915.3 219.1 916.9 222.1 918.6 225.1 920.2 228.2 921.9 231.4 923.6 234.6 925.2 237.9 926.9 241.3 928.6 244.7 930.2 248.2 931.9 251.7 933.5 255.3 935.2 259.0 936.9 262.7 938.5 266.5 940.2 270.4 941.8 274.3 943.5 278.3 945.2 282.3 946.8 286.4 948.5 290.6 950.2 294.8 951.8 299.0 953.5 303.4 955.1 307.7 956.8 312.2 958.5 316.7 960.1 321.2 961.8 325.8 963.4 330.5 965.1 335.2 966.8 340.0 968.4 344.8 970.1 349.6 971.7 354.6 973.4 359.5 975.1 364.6 976.7 369.6 978.4 374.8 980.1 379.9 981.7 385.1 983.4 390.4 985.0 395.7 986.7 401.1 988.4 406.5 990.0 411.9 991.7 417.4 993.3 423.0 995.0 428.5 996.7 434.2 998.3 439.8 1000.0 445.5 1001.6 451.3 1003.3 457.0 1005.0 462.9 1006.6 468.7 1008.3 474.6 1010.0 480.5 1011.6 486.5 1013.3 492.5 1014.9 498.5 1016.6 504.6 1018.3 510.7 1019.9 516.8 1021.6 523.0 1023.2 529.1 1024.9 535.3 1026.6 541.6 1028.2 547.8 1029.9 554.1 1031.5 560.4 1033.2 566.8 1034.9 573.1 1036.5 579.5 1038.2 585.9 1039.8 592.3 1041.5 598.7 1043.2 605.2 1044.8 611.6 1046.5 618.1 1048.2 624.6 1049.8 631.0 1051.5 637.5 1053.1 644.0 1054.8 650.5 1056.5 657.1 1058.1 663.6 1059.8 670.1 1061.4 676.6 1063.1 683.1 1064.8 689.6 1066.4 696.1 1068.1 702.6 1069.8 709.1 1071.4 715.6 1073.1 722.0 1074.7 728.5 1076.4 734.9 1078.1 741.3 1079.7 747.7 1081.4 754.0 1083.0 760.3 1084.7 766.6 1086.4 772.9 1088.0 779.1 1089.7 785.2 1091.3 791.4 1093.0 797.5 1094.7 803.5 1096.3 809.5 1098.0 815.4 1099.7 821.3 1101.3 827.1 1103.0 832.8 1104.6 838.5 1106.3 844.0 1108.0 849.5 1109.6 855.0 1111.3 860.3 1112.9 865.5 1114.6 870.6 1116.3 875.7 1117.9 880.6 1119.6 885.4 1121.2 890.0 1122.9 894.6 1124.6 899.0 1126.2 903.2 1127.9 907.4 1129.6 911.3 1131.2 915.2 1132.9 918.8 1134.5 922.3 1136.2 925.6 1137.9 928.7 1139.5 931.7 1141.2 934.4 1142.8 937.0 1144.5 939.3 1146.2 941.4 1147.8 943.4 1149.5 945.1 1151.1 946.6 1152.8 947.8 1154.5 948.9 1156.1 949.7 1157.8 950.3 1159.5 950.7 1161.1 950.8 1162.8 950.7 1164.4 950.4 1166.1 949.8 1167.8 949.1 1169.4 948.1 1171.1 946.9 1172.7 945.5 1174.4 943.8 1176.1 942.0 1177.7 940.0 1179.4 937.7 1181.0 935.3 1182.7 932.7 1184.4 929.9 1186.0 927.0 1187.7 923.8 1189.3 920.6 1191.0 917.1 1192.7 913.5 1194.3 909.8 1196.0 906.0 1197.7 902.0 1199.3 897.9 1201.0 893.7 1202.6 889.3 1204.3 884.9 1206.0 880.4 1207.6 875.7 1209.3 871.0 1210.9 866.2 1212.6 861.3 1214.3 856.4 1215.9 851.4 1217.6 846.3 1219.2 841.2 1220.9 836.0 1222.6 830.7 1224.2 825.4 1225.9 820.1 1227.6 814.7 1229.2 809.3 1230.9 803.9 1232.5 798.4 1234.2 792.9 1235.9 787.4 1237.5 781.8 1239.2 776.3 1240.8 770.7 1242.5 765.1 1244.2 759.5 1245.8 753.9 1247.5 748.3 1249.2 742.6 1250.8 737.0 1252.5 731.4 1254.1 725.8 1255.8 720.2 1257.5 714.5 1259.1 708.9 1260.8 703.3 1262.4 697.8 1264.1 692.2 1265.8 686.6 1267.4 681.1 1269.1 675.6 1270.7 670.1 1272.4 664.6 1274.1 659.1 1275.7 653.7 1277.4 648.3 1279.0 642.9 1280.7 637.5 1282.4 632.2 1284.0 626.9 1285.7 621.6 1287.4 616.4 1289.0 611.1 1290.7 605.9 1292.3 600.8 1294.0 595.7 1295.7 590.6 1297.3 585.5 1299.0 580.5 1300.6 575.6 1302.3 570.6 1304.0 565.7 1305.6 560.9 1307.3 556.1 1309.0 551.3 1310.6 546.6 1312.3 541.9 1313.9 537.2 1315.6 532.6 1317.3 528.1 1318.9 523.6 1320.6 519.1 1322.2 514.7 1323.9 510.3 1325.6 506.0 1327.2 501.7 1328.9 497.5 1330.5 493.3 1332.2 489.2 1333.9 485.1 1335.5 481.1 1337.2 477.1 1338.9 473.2 1340.5 469.3 1342.2 465.5 1343.8 461.8 1345.5 458.1 1347.2 454.4 1348.8 450.8 1350.5 447.3 1352.1 443.8 1353.8 440.4 1355.5 437.0 1357.1 433.7 1358.8 430.4 1360.4 427.2 1362.1 424.1 1363.8 421.0 1365.4 418.0 1367.1 415.0 1368.8 412.1 1370.4 409.2 1372.1 406.5 1373.7 403.7 1375.4 401.1 1377.1 398.5 1378.7 395.9 1380.4 393.4 1382.0 391.0 1383.7 388.6 1385.4 386.3 1387.0 384.1 1388.7 381.9 1390.3 379.8 1392.0 377.8 1393.7 375.8 1395.3 373.9 1397.0 372.0 1398.7 370.2 1400.3 368.5 1402.0 366.8 1403.6 365.2 1405.3 363.6 1407.0 362.2 1408.6 360.8 1410.3 359.4 1411.9 358.1 1413.6 356.9 1415.3 355.8 1416.9 354.7 1418.6 353.7 1420.2 352.7 1421.9 351.8 1423.6 351.0 1425.2 350.2 1426.9 349.5 1428.5 348.9 1430.2 348.3 1431.9 347.8 1433.5 347.4 1435.2 347.1 1436.9 346.8 1438.5 346.5 1440.2 346.4 1441.8 346.3 1443.5 346.2"/>
<path d="M247.5 338.5 249.2 338.5 250.8 338.6 252.5 338.8 254.1 339.0 255.8 339.3 257.5 339.6 259.1 340.0 260.8 340.5 262.4 341.1 264.1 341.7 265.8 342.3 267.4 343.0 269.1 343.8 270.8 344.7 272.4 345.6 274.1 346.6 275.7 347.6 277.4 348.7 279.1 349.8 280.7 351.1 282.4 352.3 284.0 353.7 285.7 355.1 287.4 356.6 289.0 358.1 290.7 359.7 292.4 361.3 294.0 363.0 295.7 364.8 297.3 366.6 299.0 368.5 300.7 370.5 302.3 372.5 304.0 374.5 305.6 376.7 307.3 378.8 309.0 381.1 310.6 383.4 312.3 385.7 313.9 388.1 315.6 390.6 317.3 393.1 318.9 395.7 320.6 398.4 322.2 401.1 323.9 403.8 325.6 406.6 327.2 409.5 328.9 412.4 330.6 415.3 332.2 418.4 333.9 421.4 335.5 424.6 337.2 427.7 338.9 431.0 340.5 434.2 342.2 437.6 343.8 441.0 345.5 444.4 347.2 447.9 348.8 451.4 350.5 455.0 352.1 458.6 353.8 462.3 355.5 466.0 357.1 469.7 358.8 473.5 360.5 477.4 362.1 481.3 363.8 485.2 365.4 489.2 367.1 493.2 368.8 497.3 370.4 501.4 372.1 505.5 373.7 509.7 375.4 513.9 377.1 518.2 378.7 522.5 380.4 526.8 382.1 531.2 383.7 535.5 385.4 540.0 387.0 544.4 388.7 548.9 390.4 553.5 392.0 558.0 393.7 562.6 395.3 567.2 397.0 571.8 398.7 576.5 400.3 581.2 402.0 585.9 403.6 590.6 405.3 595.3 407.0 600.1 408.6 604.9 410.3 609.7 412.0 614.5 413.6 619.3 415.3 624.1 416.9 629.0 418.6 633.8 420.3 638.7 421.9 643.6 423.6 648.4 425.2 653.3 426.9 658.2 428.6 663.1 430.2 667.9 431.9 672.8 433.5 677.7 435.2 682.5 436.9 687.4 438.5 692.2 440.2 697.0 441.9 701.8 443.5 706.6 445.2 711.3 446.8 716.1 448.5 720.8 450.2 725.4 451.8 730.1 453.5 734.7 455.1 739.3 456.8 743.8 458.5 748.3 460.1 752.7 461.8 757.1 463.4 761.4 465.1 765.7 466.8 769.9 468.4 774.1 470.1 778.1 471.8 782.2 473.4 786.1 475.1 790.0 476.7 793.8 478.4 797.5 480.1 801.1 481.7 804.6 483.4 808.0 485.0 811.4 486.7 814.6 488.4 817.7 490.0 820.7 491.7 823.6 493.3 826.4 495.0 829.0 496.7 831.5 498.3 833.9 500.0 836.2 501.6 838.3 503.3 840.3 505.0 842.1 506.6 843.8 508.3 845.3 510.0 846.7 511.6 847.9 513.3 849.0 514.9 849.9 516.6 850.6 518.3 851.2 519.9 851.6 521.6 851.8 523.2 851.9 524.9 851.8 526.6 851.5 528.2 851.1 529.9 850.5 531.5 849.7 533.2 848.8 534.9 847.6 536.5 846.4 538.2 844.9 539.9 843.3 541.5 841.5 543.2 839.6 544.8 837.5 546.5 835.2 548.2 832.8 549.8 830.2 551.5 827.5 553.1 824.7 554.8 821.7 556.5 818.5 558.1 815.3 559.8 811.8 561.5 808.3 563.1 804.7 564.8 800.9 566.4 797.0 568.1 793.0 569.8 788.8 571.4 784.6 573.1 780.3 574.7 775.8 576.4 771.3 578.1 766.7 579.7 761.9 581.4 757.1 583.0 752.2 584.7 747.3 586.4 742.2 588.0 737.1 589.7 731.9 591.4 726.7 593.0 721.4 594.7 716.0 596.3 710.5 598.0 705.1 599.7 699.5 601.3 693.9 603.0 688.3 604.6 682.6 606.3 676.9 608.0 671.1 609.6 665.3 611.3 659.5 612.9 653.6 614.6 647.7 616.3 641.8 617.9 635.9 619.6 629.9 621.2 623.9 622.9 617.9 624.6 611.9 626.2 605.8 627.9 599.8 629.6 593.7 631.2 587.6 632.9 581.6 634.5 575.5 636.2 569.4 637.9 563.3 639.5 557.2 641.2 551.1 642.8 545.0 644.5 538.9 646.2 532.8 647.8 526.7 649.5 520.7 651.2 514.6 652.8 508.5 654.5 502.5 656.1 496.5 657.8 490.5 659.5 484.5 661.1 478.5 662.8 472.5 664.4 466.6 666.1 460.6 667.8 454.7 669.4 448.8 671.1 443.0 672.7 437.1 674.4 431.3 676.1 425.6 677.7 419.8 679.4 414.1 681.0 408.4 682.7 402.7 684.4 397.1 686.0 391.4 687.7 385.9 689.4 380.3 691.0 374.8 692.7 369.4 694.3 363.9 696.0 358.5 697.7 353.2 699.3 347.8 701.0 342.6 702.6 337.3 704.3 332.1 706.0 327.0 707.6 321.8 709.3 316.8 711.0 311.7 712.6 306.7 714.3 301.8 715.9 296.9 717.6 292.1 719.3 287.3 720.9 282.5 722.6 277.8 724.2 273.1 725.9 268.5 727.6 264.0 729.2 259.5 730.9 255.0 732.5 250.6 734.2 246.2 735.9 241.9 737.5 237.7 739.2 233.5 740.9 229.4 742.5 225.3 744.2 221.3 745.8 217.3 747.5 213.4 749.2 209.5 750.8 205.7 752.5 202.0 754.1 198.3 755.8 194.7 757.5 191.1 759.1 187.6 760.8 184.1 762.4 180.8 764.1 177.4 765.8 174.2 767.4 171.0 769.1 167.8 770.8 164.7 772.4 161.7 774.1 158.8 775.7 155.9 777.4 153.0 779.1 150.3 780.7 147.6 782.4 144.9 784.0 142.4 785.7 139.9 787.4 137.4 789.0 135.1 790.7 132.7 792.3 130.5 794.0 128.3 795.7 126.2 797.3 124.2 799.0 122.2 800.6 120.3 802.3 118.5 804.0 116.7 805.6 115.0 807.3 113.3 809.0 111.8 810.6 110.3 812.3 108.8 813.9 107.5 815.6 106.2 817.3 105.0 818.9 103.8 820.6 102.7 822.2 101.7 823.9 100.8 825.6 99.9 827.2 99.1 828.9 98.3 830.6 97.7 832.2 97.1 833.9 96.5 835.5 96.1 837.2 95.7 838.9 95.4 840.5 95.1 842.2 95.0 843.8 94.9 845.5 94.8 847.2 94.9 848.8 95.0 850.5 95.1 852.1 95.4 853.8 95.7 855.5 96.1 857.1 96.5 858.8 97.1 860.5 97.7 862.1 98.3 863.8 99.1 865.4 99.9 867.1 100.8 868.8 101.7 870.4 102.7 872.1 103.8 873.7 105.0 875.4 106.2 877.1 107.5 878.7 108.8 880.4 110.3 882.0 111.8 883.7 113.3 885.4 115.0 887.0 116.7 888.7 118.5 890.4 120.3 892.0 122.2 893.7 124.2 895.3 126.2 897.0 128.3 898.7 130.5 900.3 132.7 902.0 135.1 903.6 137.4 905.3 139.9 907.0 142.4 908.6 144.9 910.3 147.6 911.9 150.3 913.6 153.0 915.3 155.9 916.9 158.8 918.6 161.7 920.2 164.7 921.9 167.8 923.6 171.0 925.2 174.2 926.9 177.4 928.6 180.8 930.2 184.1 931.9 187.6 933.5 191.1 935.2 194.7 936.9 198.3 938.5 202.0 940.2 205.7 941.8 209.5 943.5 213.4 945.2 217.3 946.8 221.3 948.5 225.3 950.2 229.4 951.8 233.5 953.5 237.7 955.1 241.9 956.8 246.2 958.5 250.6 960.1 255.0 961.8 259.5 963.4 264.0 965.1 268.5 966.8 273.1 968.4 277.8 970.1 282.5 971.7 287.3 973.4 292.1 975.1 296.9 976.7 301.8 978.4 306.7 980.1 311.7 981.7 316.8 983.4 321.8 985.0 327.0 986.7 332.1 988.4 337.3 990.0 342.6 991.7 347.8 993.3 353.2 995.0 358.5 996.7 363.9 998.3 369.4 1000.0 374.8 1001.6 380.3 1003.3 385.9 1005.0 391.4 1006.6 397.1 1008.3 402.7 1010.0 408.4 1011.6 414.1 1013.3 419.8 1014.9 425.6 1016.6 431.3 1018.3 437.1 1019.9 443.0 1021.6 448.8 1023.2 454.7 1024.9 460.6 1026.6 466.6 1028.2 472.5 1029.9 478.5 1031.5 484.5 1033.2 490.5 1034.9 496.5 1036.5 502.5 1038.2 508.5 1039.8 514.6 1041.5 520.7 1043.2 526.7 1044.8 532.8 1046.5 538.9 1048.2 545.0 1049.8 551.1 1051.5 557.2 1053.1 563.3 1054.8 569.4 1056.5 575.5 1058.1 581.6 1059.8 587.6 1061.4 593.7 1063.1 599.8 1064.8 605.8 1066.4 611.9 1068.1 617.9 1069.8 623.9 1071.4 629.9 1073.1 635.9 1074.7 641.8 1076.4 647.7 1078.1 653.6 1079.7 659.5 1081.4 665.3 1083.0 671.1 1084.7 676.9 1086.4 682.6 1088.0 688.3 1089.7 693.9 1091.3 699.5 1093.0 705.1 1094.7 710.5 1096.3 716.0 1098.0 721.4 1099.7 726.7 1101.3 731.9 1103.0 737.1 1104.6 742.2 1106.3 747.3 1108.0 752.2 1109.6 757.1 1111.3 761.9 1112.9 766.7 1114.6 771.3 1116.3 775.8 1117.9 780.3 1119.6 784.6 1121.2 788.8 1122.9 793.0 1124.6 797.0 1126.2 800.9 1127.9 804.7 1129.6 808.3 1131.2 811.8 1132.9 815.3 1134.5 818.5 1136.2 821.7 1137.9 824.7 1139.5 827.5 1141.2 830.2 1142.8 832.8 1144.5 835.2 1146.2 837.5 1147.8 839.6 1149.5 841.5 1151.1 843.3 1152.8 844.9 1154.5 846.4 1156.1 847.6 1157.8 848.8 1159.5 849.7 1161.1 850.5 1162.8 851.1 1164.4 851.5 1166.1 851.8 1167.8 851.9 1169.4 851.8 1171.1 851.6 1172.7 851.2 1174.4 850.6 1176.1 849.9 1177.7 849.0 1179.4 847.9 1181.0 846.7 1182.7 845.3 1184.4 843.8 1186.0 842.1 1187.7 840.3 1189.3 838.3 1191.0 836.2 1192.7 833.9 1194.3 831.5 1196.0 829.0 1197.7 826.4 1199.3 823.6 1201.0 820.7 1202.6 817.7 1204.3 814.6 1206.0 811.4 1207.6 808.0 1209.3 804.6 1210.9 801.1 1212.6 797.5 1214.3 793.8 1215.9 790.0 1217.6 786.1 1219.2 782.2 1220.9 778.1 1222.6 774.1 1224.2 769.9 1225.9 765.7 1227.6 761.4 1229.2 757.1 1230.9 752.7 1232.5 748.3 1234.2 743.8 1235.9 739.3 1237.5 734.7 1239.2 730.1 1240.8 725.4 1242.5 720.8 1244.2 716.1 1245.8 711.3 1247.5 706.6 1249.2 701.8 1250.8 697.0 1252.5 692.2 1254.1 687.4 1255.8 682.5 1257.5 677.7 1259.1 672.8 1260.8 667.9 1262.4 663.1 1264.1 658.2 1265.8 653.3 1267.4 648.4 1269.1 643.6 1270.7 638.7 1272.4 633.8 1274.1 629.0 1275.7 624.1 1277.4 619.3 1279.0 614.5 1280.7 609.7 1282.4 604.9 1284.0 600.1 1285.7 595.3 1287.4 590.6 1289.0 585.9 1290.7 581.2 1292.3 576.5 1294.0 571.8 1295.7 567.2 1297.3 562.6 1299.0 558.0 1300.6 553.5 1302.3 548.9 1304.0 544.4 1305.6 540.0 1307.3 535.5 1309.0 531.2 1310.6 526.8 1312.3 522.5 1313.9 518.2 1315.6 513.9 1317.3 509.7 1318.9 505.5 1320.6 501.4 1322.2 497.3 1323.9 493.2 1325.6 489.2 1327.2 485.2 1328.9 481.3 1330.5 477.4 1332.2 473.5 1333.9 469.7 1335.5 466.0 1337.2 462.3 1338.9 458.6 1340.5 455.0 1342.2 451.4 1343.8 447.9 1345.5 444.4 1347.2 441.0 1348.8 437.6 1350.5 434.2 1352.1 431.0 1353.8 427.7 1355.5 424.6 1357.1 421.4 1358.8 418.4 1360.4 415.3 1362.1 412.4 1363.8 409.5 1365.4 406.6 1367.1 403.8 1368.8 401.1 1370.4 398.4 1372.1 395.7 1373.7 393.1 1375.4 390.6 1377.1 388.1 1378.7 385.7 1380.4 383.4 1382.0 381.1 1383.7 378.8 1385.4 376.7 1387.0 374.5 1388.7 372.5 1390.3 370.5 1392.0 368.5 1393.7 366.6 1395.3 364.8 1397.0 363.0 1398.7 361.3 1400.3 359.7 1402.0 358.1 1403.6 356.6 1405.3 355.1 1407.0 353.7 1408.6 352.3 1410.3 351.1 1411.9 349.8 1413.6 348.7 1415.3 347.6 1416.9 346.6 1418.6 345.6 1420.2 344.7 1421.9 343.8 1423.6 343.0 1425.2 342.3 1426.9 341.7 1428.5 341.1 1430.2 340.5 1431.9 340.0 1433.5 339.6 1435.2 339.3 1436.9 339.0 1438.5 338.8 1440.2 338.6 1441.8 338.5 1443.5 338.5"/>
</g>
<path d="M247.5 902.5 254.1 902.5 260.8 902.4 267.4 902.4 274.1 902.4 280.7 902.4 287.4 902.3 294.0 902.3 300.7 902.2 307.3 902.2 313.9 902.1 320.6 902.0 327.2 902.0 333.9 901.9 340.5 901.8 347.2 901.7 353.8 901.6 360.5 901.5 367.1 901.4 373.7 901.3 380.4 901.1 387.0 901.0 393.7 900.9 400.3 900.7 407.0 900.6 413.6 900.4 420.3 900.3 426.9 900.1 433.5 899.9 440.2 899.8 446.8 899.6 453.5 899.4 460.1 899.2 466.8 899.1 473.4 898.9 480.1 898.7 486.7 898.5 493.3 898.3 500.0 898.1 506.6 897.9 513.3 897.7 519.9 897.5 526.6 897.3 533.2 897.1 539.9 896.9 546.5 896.7 553.1 896.5 559.8 896.3 566.4 896.1 573.1 895.9 579.7 895.7 586.4 895.5 593.0 895.3 599.7 895.1 606.3 894.9 612.9 894.7 619.6 894.5 626.2 894.3 632.9 894.1 639.5 893.9 646.2 893.7 652.8 893.5 659.5 893.4 666.1 893.2 672.7 893.0 679.4 892.9 686.0 892.7 692.7 892.6 699.3 892.4 706.0 892.3 712.6 892.1 719.3 892.0 725.9 891.9 732.5 891.7 739.2 891.6 745.8 891.5 752.5 891.4 759.1 891.3 765.8 891.2 772.4 891.1 779.1 891.1 785.7 891.0 792.3 890.9 799.0 890.9 805.6 890.8 812.3 890.8 818.9 890.8 825.6 890.7 832.2 890.7 838.9 890.7 845.5 890.7 852.1 890.7 858.8 890.7 865.4 890.7 872.1 890.8 878.7 890.8 885.4 890.8 892.0 890.9 898.7 890.9 905.3 891.0 911.9 891.1 918.6 891.1 925.2 891.2 931.9 891.3 938.5 891.4 945.2 891.5 951.8 891.6 958.5 891.7 965.1 891.9 971.7 892.0 978.4 892.1 985.0 892.3 991.7 892.4 998.3 892.6 1005.0 892.7 1011.6 892.9 1018.3 893.0 1024.9 893.2 1031.5 893.4 1038.2 893.5 1044.8 893.7 1051.5 893.9 1058.1 894.1 1064.8 894.3 1071.4 894.5 1078.1 894.7 1084.7 894.9 1091.3 895.1 1098.0 895.3 1104.6 895.5 1111.3 895.7 1117.9 895.9 1124.6 896.1 1131.2 896.3 1137.9 896.5 1144.5 896.7 1151.1 896.9 1157.8 897.1 1164.4 897.3 1171.1 897.5 1177.7 897.7 1184.4 897.9 1191.0 898.1 1197.7 898.3 1204.3 898.5 1210.9 898.7 1217.6 898.9 1224.2 899.1 1230.9 899.2 1237.5 899.4 1244.2 899.6 1250.8 899.8 1257.5 899.9 1264.1 900.1 1270.7 900.3 1277.4 900.4 1284.0 900.6 1290.7 900.7 1297.3 900.9 1304.0 901.0 1310.6 901.1 1317.3 901.3 1323.9 901.4 1330.5 901.5 1337.2 901.6 1343.8 901.7 1350.5 901.8 1357.1 901.9 1363.8 902.0 1370.4 902.0 1377.1 902.1 1383.7 902.2 1390.3 902.2 1397.0 902.3 1403.6 902.3 1410.3 902.4 1416.9 902.4 1423.6 902.4 1430.2 902.4 1436.9 902.5 1443.5 902.5"/>
</g>
<rect x="798" y="862" width="95.5" height="52" fill="#fff"/>
<text x="794.8" y="910.8" font-family="Liberation Serif" font-size="63" fill="#1c1f20">SOI</text>
<path d="M397.5 257L657.41 422.45" stroke="#1c1f20" stroke-width="4.2" fill="none"/><path d="M668.80 429.70L633.90 429.77L634.04 423.22L658.51 423.15L648.22 400.95L654.09 398.05Z" fill="#1c1f20"/>
<path d="M726.4 689.1L939.92 429.62" stroke="#1c1f20" stroke-width="4.2" fill="none"/><path d="M948.50 419.20L944.34 453.85L937.85 452.91L940.75 428.62L917.47 436.14L915.30 429.96Z" fill="#1c1f20"/>
<path d="M365.60 225.50Q365.90 222.00 366.70 220.25Q367.50 218.50 369.25 217.95Q371.00 217.40 372.60 218.40Q374.20 219.40 375.10 221.20Q376.00 223.00 376.65 225.50Q377.30 228.00 377.75 230.50Q378.20 233.00 378.50 235.75L378.80 238.50" fill="none" stroke="#000" stroke-width="2.5" stroke-linecap="butt"/><path d="M385.00 216.20L392.00 216.20L389.50 220.50L385.40 228.70L381.40 237.70L380.20 240.50L379.80 253.40L377.70 256.70L375.00 256.70L375.00 248.40L376.00 246.40L378.00 243.40L378.80 238.00L380.00 234.00L381.40 230.00L383.40 223.00L384.90 220.00Z" fill="#000"/>
<text transform="translate(411.00 244.50) scale(1.165 1.0)" font-family="Liberation Serif" font-size="62" fill="#000">=</text>
<text transform="translate(468.80 244.50) scale(1.0 1.065)" font-family="Liberation Serif" font-size="62" fill="#000">0.4</text>
<text transform="translate(555.90 244.50) scale(1.0 1.0)" font-family="Liberation Serif" font-size="62" fill="#000">deg</text>
<path d="M708.20 716.00Q708.50 712.50 709.30 710.75Q710.10 709.00 711.85 708.45Q713.60 707.90 715.20 708.90Q716.80 709.90 717.70 711.70Q718.60 713.50 719.25 716.00Q719.90 718.50 720.35 721.00Q720.80 723.50 721.10 726.25L721.40 729.00" fill="none" stroke="#000" stroke-width="2.5" stroke-linecap="butt"/><path d="M727.60 706.70L734.60 706.70L732.10 711.00L728.00 719.20L724.00 728.20L722.80 731.00L722.40 743.90L720.30 747.20L717.60 747.20L717.60 738.90L718.60 736.90L720.60 733.90L721.40 728.50L722.60 724.50L724.00 720.50L726.00 713.50L727.50 710.50Z" fill="#000"/>
<text transform="translate(753.30 735.60) scale(1.165 1.0)" font-family="Liberation Serif" font-size="62" fill="#000">=</text>
<text transform="translate(811.50 735.60) scale(1.0 1.065)" font-family="Liberation Serif" font-size="62" fill="#000">0</text>
<text transform="translate(842.00 735.60) scale(1.0 1.0)" font-family="Liberation Serif" font-size="62" fill="#000">.</text>
<text transform="translate(862.50 735.60) scale(0.7 1.065)" font-family="Liberation Serif" font-size="62" fill="#000">1</text>
<text transform="translate(893.36 735.60) scale(1.02 1.0)" font-family="Liberation Serif" font-size="62" fill="#000">deg</text>
<g font-family="Liberation Sans" font-size="64" fill="#1c1f20" stroke="#fff" stroke-width="0.9">
<g transform="translate(220.28 1273) scale(0.96 1)"><text x="-35.58" y="0">0</text></g>
<g transform="translate(220.28 1151.59) scale(0.96 1)"><text x="-71.17" y="0">5</text><text x="-35.58" y="0">0</text></g>
<g transform="translate(220.28 1030.18) scale(0.96 1)"><text x="-71.17" y="0">0</text><text x="-35.58" y="0">0</text><path d="M-86.44 -44.60L-82.59 -44.60L-82.59 0.00L-87.59 0.00L-87.59 -35.40L-98.84 -27.90L-98.84 -33.60Z" stroke="none"/></g>
<g transform="translate(220.28 908.77) scale(0.96 1)"><text x="-71.17" y="0">5</text><text x="-35.58" y="0">0</text><path d="M-86.44 -44.60L-82.59 -44.60L-82.59 0.00L-87.59 0.00L-87.59 -35.40L-98.84 -27.90L-98.84 -33.60Z" stroke="none"/></g>
<g transform="translate(220.28 787.36) scale(0.96 1)"><text x="-106.75" y="0">2</text><text x="-71.17" y="0">0</text><text x="-35.58" y="0">0</text></g>
<g transform="translate(220.28 665.95) scale(0.96 1)"><text x="-106.75" y="0">2</text><text x="-71.17" y="0">5</text><text x="-35.58" y="0">0</text></g>
<g transform="translate(220.28 544.54) scale(0.96 1)"><text x="-106.75" y="0">3</text><text x="-71.17" y="0">0</text><text x="-35.58" y="0">0</text></g>
<g transform="translate(220.28 423.13) scale(0.96 1)"><text x="-106.75" y="0">3</text><text x="-71.17" y="0">5</text><text x="-35.58" y="0">0</text></g>
<g transform="translate(220.28 301.72) scale(0.96 1)"><text x="-106.75" y="0">4</text><text x="-71.17" y="0">0</text><text x="-35.58" y="0">0</text></g>
<g transform="translate(220.28 180.31) scale(0.96 1)"><text x="-106.75" y="0">4</text><text x="-71.17" y="0">5</text><text x="-35.58" y="0">0</text></g>
<g transform="translate(220.28 58.9) scale(0.96 1)"><text x="-106.75" y="0">5</text><text x="-71.17" y="0">0</text><text x="-35.58" y="0">0</text></g>
</g>
<g font-family="Liberation Sans" font-size="64" fill="#1c1f20" stroke="#fff" stroke-width="0.9">
<g transform="translate(291.6 1321.1) rotate(-45) scale(0.96 1)"><text x="-35.58" y="0">0</text></g>
<g transform="translate(441.1 1321.1) rotate(-45) scale(0.96 1)"><text x="-71.17" y="0">4</text><text x="-35.58" y="0">5</text></g>
<g transform="translate(590.6 1321.1) rotate(-45) scale(0.96 1)"><text x="-71.17" y="0">9</text><text x="-35.58" y="0">0</text></g>
<g transform="translate(740.1 1321.1) rotate(-45) scale(0.96 1)"><text x="-71.17" y="0">3</text><text x="-35.58" y="0">5</text><path d="M-86.44 -44.60L-82.59 -44.60L-82.59 0.00L-87.59 0.00L-87.59 -35.40L-98.84 -27.90L-98.84 -33.60Z" stroke="none"/></g>
<g transform="translate(889.6 1321.1) rotate(-45) scale(0.96 1)"><text x="-71.17" y="0">8</text><text x="-35.58" y="0">0</text><path d="M-86.44 -44.60L-82.59 -44.60L-82.59 0.00L-87.59 0.00L-87.59 -35.40L-98.84 -27.90L-98.84 -33.60Z" stroke="none"/></g>
<g transform="translate(1039.1 1321.1) rotate(-45) scale(0.96 1)"><text x="-106.75" y="0">2</text><text x="-71.17" y="0">2</text><text x="-35.58" y="0">5</text></g>
<g transform="translate(1188.6 1321.1) rotate(-45) scale(0.96 1)"><text x="-106.75" y="0">2</text><text x="-71.17" y="0">7</text><text x="-35.58" y="0">0</text></g>
<g transform="translate(1338.1 1321.1) rotate(-45) scale(0.96 1)"><text x="-106.75" y="0">3</text><text x="-35.58" y="0">5</text><path d="M-50.86 -44.60L-47.00 -44.60L-47.00 0.00L-52.00 0.00L-52.00 -35.40L-63.25 -27.90L-63.25 -33.60Z" stroke="none"/></g>
<g transform="translate(1487.6 1321.1) rotate(-45) scale(0.96 1)"><text x="-106.75" y="0">3</text><text x="-71.17" y="0">6</text><text x="-35.58" y="0">0</text></g>
</g>
<g fill="#1c1f20" font-family="Liberation Serif">
<rect x="736.9" y="1427.1" width="39.1" height="3.7"/>
<path d="M742.2 1438.2L746.3 1437.2L752.7 1437.2L753.4 1439.5L752.7 1443.7L751.3 1448.0L750.0 1453.7L748.7 1458.7L748.0 1464.4L746.7 1467.9L741.2 1467.9L741.2 1464.4L742.3 1460.4L743.7 1455.4L744.7 1450.4L745.8 1445.3L746.3 1442.0L745.3 1440.7L742.2 1440.7Z" fill="#1c1f20"/><path d="M747.6 1466.0C758 1461.5 769 1451 771.6 1440.2" fill="none" stroke="#1c1f20" stroke-width="3.3" stroke-linecap="round"/><circle cx="771.3" cy="1440.0" r="2.4" fill="#1c1f20"/>
<path d="M819.50 1415.80C800.30 1432.70 800.30 1467.90 819.50 1484.80L822.30 1483.00C805.70 1468.40 805.70 1432.20 822.30 1417.60Z" fill="#1c1f20"/>
<text transform="translate(823.11 1468) scale(1.03 1)" font-size="70">deg</text>
<path d="M932.70 1415.80C951.90 1432.70 951.90 1467.90 932.70 1484.80L929.90 1483.00C946.50 1468.40 946.50 1432.20 929.90 1417.60Z" fill="#1c1f20"/>
</g>
<g transform="translate(71.7 839.6) rotate(-90)" fill="#1c1f20" font-family="Liberation Serif">
<text transform="translate(-1.04 0) scale(1.037 1)" font-size="70">m</text>
<text x="55.7" y="0" font-family="Liberation Serif" font-size="70" fill="#1c1f20">i</text>
<text transform="translate(74.12 0) scale(1.09 1)" font-size="70">n</text>
<g transform="translate(114.1 -11.7) scale(0.715) translate(-741.2 -1437.2)"><path d="M742.2 1438.2L746.3 1437.2L752.7 1437.2L753.4 1439.5L752.7 1443.7L751.3 1448.0L750.0 1453.7L748.7 1458.7L748.0 1464.4L746.7 1467.9L741.2 1467.9L741.2 1464.4L742.3 1460.4L743.7 1455.4L744.7 1450.4L745.8 1445.3L746.3 1442.0L745.3 1440.7L742.2 1440.7Z" fill="#1c1f20"/><path d="M747.6 1466.0C758 1461.5 769 1451 771.6 1440.2" fill="none" stroke="#1c1f20" stroke-width="3.3" stroke-linecap="round"/><circle cx="771.3" cy="1440.0" r="2.4" fill="#1c1f20"/></g>
<path d="M162.90 -52.20C143.70 -35.30 143.70 -0.10 162.90 16.80L165.70 15.00C149.10 0.40 149.10 -35.80 165.70 -50.40Z" fill="#1c1f20"/>
<text x="169.6" y="0" font-family="Liberation Serif" font-size="70" font-style="italic" fill="#1c1f20">d</text>
<path d="M209.40 -52.20C228.60 -35.30 228.60 -0.10 209.40 16.80L206.60 15.00C223.20 0.40 223.20 -35.80 206.60 -50.40Z" fill="#1c1f20"/>
<path d="M273.90 -52.20C254.70 -35.30 254.70 -0.10 273.90 16.80L276.70 15.00C260.10 0.40 260.10 -35.80 276.70 -50.40Z" fill="#1c1f20"/>
<text transform="translate(281.9 0) scale(1.16 1)" font-size="70" font-style="italic">R</text>
<path d="M376.80 -52.20C396.00 -35.30 396.00 -0.10 376.80 16.80L374.00 15.00C390.60 0.40 390.60 -35.80 374.00 -50.40Z" fill="#1c1f20"/>
<g fill="none" stroke="#1c1f20" stroke-width="2.6"><circle cx="349.55" cy="-1.7" r="15.2"/><path d="M334.35 -1.7h30.4M349.55 -16.9v30.4"/></g>
</g>
</svg></body></html>
